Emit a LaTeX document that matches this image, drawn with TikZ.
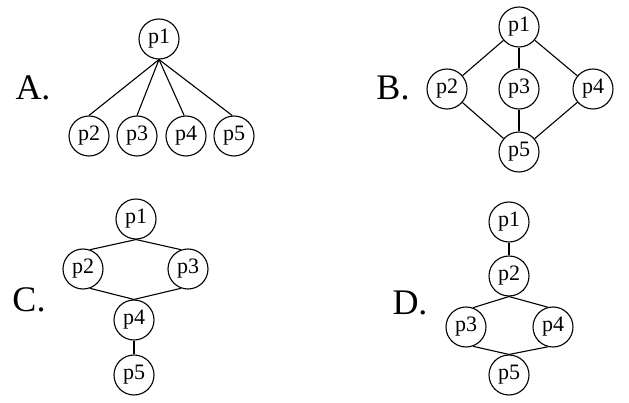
\documentclass[tikz,border=0pt]{standalone}
\usepackage{fontspec}
\setmainfont{Liberation Serif}
\begin{document}
\begin{tikzpicture}[x=1pt,y=-1pt,
  pn/.style={circle,draw,line width=1.1pt,minimum size=40pt,inner sep=0pt,font=\fontsize{22}{24}\selectfont},
  lbl/.style={inner sep=0pt,font=\fontsize{36}{40}\selectfont},
  every path/.style={line width=1.1pt}]
\useasboundingbox (0,0) rectangle (629,403);
% A
\node[lbl] (la) at (33,88) {A.};
\node[pn] (a1) at (159,39) {p1};
\node[pn] (a2) at (89,136) {p2};
\node[pn] (a3) at (137,136) {p3};
\node[pn] (a4) at (186,136) {p4};
\node[pn] (a5) at (234,136) {p5};
\draw (a1.south) -- (a2.north);
\draw (a1.south) -- (a3.north);
\draw (a1.south) -- (a4.95);
\draw (a1.south) -- (a5.95);
% B
\node[lbl] (lb) at (393,88) {B.};
\node[pn] (b1) at (519,27) {p1};
\node[pn] (b2) at (447,89) {p2};
\node[pn] (b3) at (519,89) {p3};
\node[pn] (b4) at (593,89) {p4};
\node[pn] (b5) at (519,152) {p5};
\draw (b1) -- (b2);
\draw (b1) -- (b3);
\draw (b1) -- (b4);
\draw (b2) -- (b5);
\draw (b3) -- (b5);
\draw (b4) -- (b5);
% C
\node[lbl] (lc) at (29,300) {C.};
\node[pn] (c1) at (136,219) {p1};
\node[pn] (c2) at (83,269) {p2};
\node[pn] (c3) at (188,269) {p3};
\node[pn] (c4) at (134,320) {p4};
\node[pn] (c5) at (134,375) {p5};
\draw (c1.south) -- (c2.70);
\draw (c1.south) -- (c3.110);
\draw (c2.-70) -- (c4.north);
\draw (c3.-110) -- (c4.north);
\draw (c4) -- (c5);
% D
\node[lbl] (ld) at (410,303) {D.};
\node[pn] (d1) at (509,222) {p1};
\node[pn] (d2) at (509,276) {p2};
\node[pn] (d3) at (466,327) {p3};
\node[pn] (d4) at (553,327) {p4};
\node[pn] (d5) at (509,375) {p5};
\draw (d1) -- (d2);
\draw (d2.south) -- (d3.70);
\draw (d2.south) -- (d4.105);
\draw (d3.-70) -- (d5.north);
\draw (d4.-105) -- (d5.north);
\end{tikzpicture}
\end{document}
